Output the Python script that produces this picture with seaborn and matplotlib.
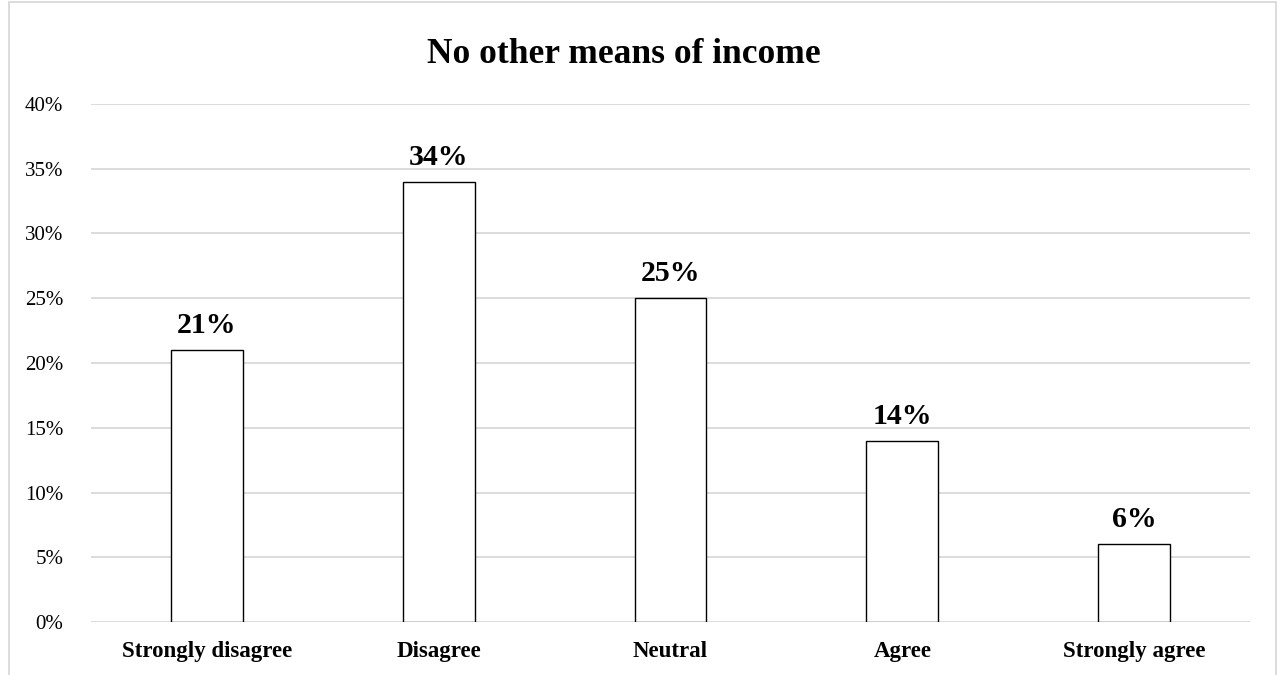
import matplotlib
matplotlib.use("Agg")
import matplotlib.pyplot as plt
from matplotlib.patches import Rectangle
from matplotlib.ticker import PercentFormatter
import seaborn as sns
import pandas as pd

categories = ["Strongly disagree", "Disagree", "Neutral", "Agree", "Strongly agree"]
shares = [21, 34, 25, 14, 6]
y_ticks = [0, 5, 10, 15, 20, 25, 30, 35, 40]

sns.set_theme(style="white")
plt.rcParams["font.family"] = ["Liberation Serif", "DejaVu Serif"]
plt.rcParams["text.color"] = "black"
plt.rcParams["xtick.color"] = "black"
plt.rcParams["ytick.color"] = "black"

df = pd.DataFrame({"category": categories, "share": shares})

fig = plt.figure(figsize=(12.8, 6.75), dpi=100)
ax = fig.add_axes([91 / 1280, 1 - 622 / 675, (1250 - 91) / 1280, (622 - 104) / 675])

sns.barplot(data=df, x="category", y="share", ax=ax, color="white",
            edgecolor="black", linewidth=1.0, width=0.31, zorder=3)

ax.set_ylim(0, 40)
ax.set_yticks(y_ticks)
ax.yaxis.set_major_formatter(PercentFormatter(decimals=0))
ax.grid(axis="y", color="#d9d9d9", linewidth=1.3, zorder=0)
for s in ax.spines.values():
    s.set_visible(False)
ax.tick_params(axis="both", length=0)
ax.tick_params(axis="y", labelsize=15, pad=20)
ax.tick_params(axis="x", labelsize=16.5, pad=14)
for lbl in ax.get_xticklabels():
    lbl.set_fontweight("bold")
ax.set_xlabel("")
ax.set_ylabel("")

for patch, v in zip(ax.patches, shares):
    ax.annotate(f"{v}%", (patch.get_x() + patch.get_width() / 2, v),
                xytext=(0, 8), textcoords="offset points",
                ha="center", va="bottom", fontsize=21.5, fontweight="bold")

fig.text(624 / 1280, 1 - 63 / 675, "No other means of income", ha="center", va="baseline",
         fontsize=25.5, fontweight="bold")

fig.patches.append(Rectangle((9 / 1280, -0.1), (1276 - 9) / 1280, 1.097,
                             transform=fig.transFigure, fill=False,
                             edgecolor="#d9d9d9", linewidth=1.3))

fig.savefig("out.png", dpi=100)
